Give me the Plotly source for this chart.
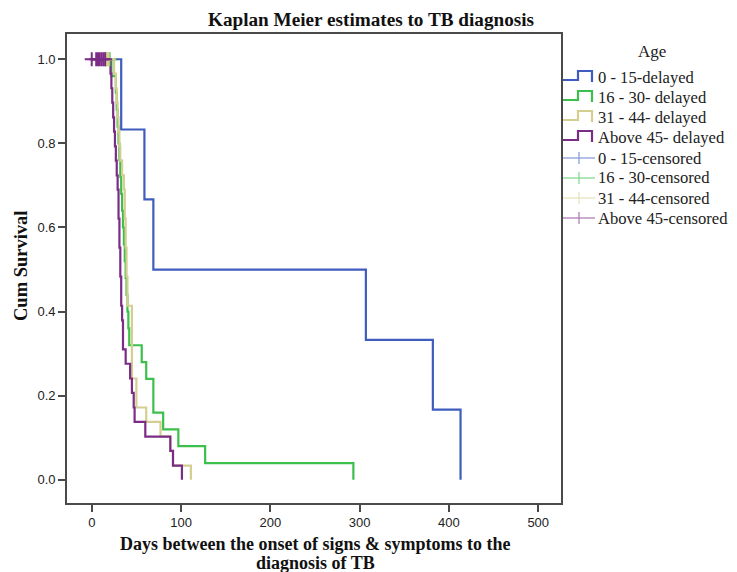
import plotly.graph_objects as go

# ---------------- data ----------------
group_names = ["0 - 15", "16 - 30", "31 - 44", "Above 45"]
legend_delayed = ["0 - 15-delayed", "16 - 30- delayed", "31 - 44- delayed", "Above 45- delayed"]
legend_censored = ["0 - 15-censored", "16 - 30-censored", "31 - 44-censored", "Above 45-censored"]

t_0_15 = [0, 33, 59, 69, 307, 382, 413]
s_0_15 = [1.0, 0.833, 0.667, 0.5, 0.333, 0.167, 0.0]

t_16_30 = [0, 22, 27, 28, 29, 30, 31, 32, 33, 34, 35, 36, 37, 38, 39, 40, 41, 42, 56, 61, 69, 80, 97, 127, 293]
s_16_30 = [1.0, 0.96, 0.92, 0.88, 0.84, 0.80, 0.76, 0.72, 0.68, 0.64, 0.60, 0.56, 0.52, 0.48, 0.44, 0.40,
           0.36, 0.32, 0.28, 0.24, 0.16, 0.12, 0.08, 0.04, 0.0]

t_31_44 = [0, 25, 27, 28, 29, 30, 31, 32, 34, 36, 37, 38, 39, 40, 45, 50, 61, 77, 88, 91, 111]
s_31_44 = [1.0, 0.966, 0.931, 0.897, 0.862, 0.828, 0.793, 0.759, 0.724, 0.690, 0.621, 0.552, 0.483,
           0.414, 0.241, 0.172, 0.138, 0.103, 0.069, 0.034, 0.0]

t_45 = [0, 21, 22, 23, 24, 25, 26, 27, 28, 29, 30, 31, 32, 33, 34, 35, 38, 43, 45, 47, 48, 60, 88, 91, 101]
s_45 = [1.0, 0.966, 0.931, 0.897, 0.862, 0.828, 0.793, 0.759, 0.724, 0.690, 0.621, 0.552, 0.483, 0.414,
        0.379, 0.310, 0.276, 0.241, 0.207, 0.172, 0.138, 0.103, 0.069, 0.034, 0.0]

cens_0_15 = []
cens_16_30 = [16, 20]
cens_31_44 = [14, 17, 19]
cens_45 = [0, 5, 7, 9, 11, 13, 15]

x_ticks = [0, 100, 200, 300, 400, 500]
y_ticks = [0.0, 0.2, 0.4, 0.6, 0.8, 1.0]

# ---------------- styling ----------------
colors = ["#3F5DBE", "#3DBF4C", "#D4CF90", "#7B2D86"]
light = ["#8D9EDB", "#86DA90", "#E6E3BD", "#AF7FB7"]

times = [t_0_15, t_16_30, t_31_44, t_45]
survs = [s_0_15, s_16_30, s_31_44, s_45]
cens = [cens_0_15, cens_16_30, cens_31_44, cens_45]

OFF = 8  # page body margin of the browser
WIN_W, WIN_H = 737, 572
W, H = WIN_W - OFF, WIN_H - OFF
L, R, T, B = 67, 561, 34, 503   # plot frame in window pixels


def px(x):
    return (x - L) / (R - L)


def py(y):
    return (B - y) / (B - T)


fig = go.Figure()
for i in range(4):
    fig.add_trace(go.Scatter(x=times[i], y=survs[i], mode="lines", line_shape="hv",
                             line=dict(color=colors[i], width=2.2), name=legend_delayed[i],
                             showlegend=False, hoverinfo="skip"))
for i in range(4):
    if cens[i]:
        fig.add_trace(go.Scatter(x=cens[i], y=[1.0] * len(cens[i]), mode="markers",
                                 marker=dict(symbol="cross-thin", size=10,
                                             line=dict(color=colors[i], width=2)),
                                 name=legend_censored[i], showlegend=False, hoverinfo="skip"))

serif = "Liberation Serif"
sans = "Liberation Sans"

axis_common = dict(showline=True, linecolor="#4a4a4a", linewidth=1.6, mirror=True,
                   ticks="outside", ticklen=7, tickwidth=1.6, tickcolor="#4a4a4a",
                   showgrid=False, zeroline=False,
                   tickfont=dict(family=sans, size=13, color="#222222"))

fig.update_layout(
    width=W, height=H,
    margin=dict(l=L - OFF, r=WIN_W - R, t=T - OFF, b=WIN_H - B, pad=0),
    paper_bgcolor="white", plot_bgcolor="white",
    title=dict(text="<b>Kaplan Meier estimates to TB diagnosis</b>",
               font=dict(family=serif, size=19.2, color="#111111"),
               x=(371 - OFF) / W, xref="container", xanchor="center",
               y=1 - (19 - OFF) / H, yref="container", yanchor="middle"),
    xaxis=dict(range=[-27.7, 525.5], tickvals=x_ticks, ticktext=[str(v) for v in x_ticks], **axis_common),
    yaxis=dict(range=[-0.055, 1.06], tickvals=y_ticks, ticktext=["%.1f" % v for v in y_ticks], **axis_common),
    showlegend=False,
)

annotations = [
    dict(text="<b>Cum Survival</b>", x=px(21), y=py(266), xref="paper", yref="paper",
         textangle=-90, showarrow=False, xanchor="center", yanchor="middle",
         font=dict(family=serif, size=18.5, color="#111111")),
    dict(text="<b>Days between the onset of signs &amp; symptoms to the</b>", x=px(315), y=py(544),
         xref="paper", yref="paper", showarrow=False, xanchor="center", yanchor="middle",
         font=dict(family=serif, size=18, color="#111111")),
    dict(text="<b>diagnosis of TB</b>", x=px(315), y=py(563),
         xref="paper", yref="paper", showarrow=False, xanchor="center", yanchor="middle",
         font=dict(family=serif, size=18, color="#111111")),
    dict(text="Age", x=px(652), y=py(51), xref="paper", yref="paper", showarrow=False,
         xanchor="center", yanchor="middle", font=dict(family=serif, size=17, color="#222222")),
]

shapes = []
row_y = [77, 97, 117, 137, 158, 178, 198, 218]
for i in range(4):
    yc = row_y[i]
    pts = [(563, yc + 3), (578, yc + 3), (578, yc - 6), (592, yc - 6), (592, yc + 5)]
    path = "M " + " L ".join("%f,%f" % (px(a), py(b)) for a, b in pts)
    shapes.append(dict(type="path", path=path, xref="paper", yref="paper",
                       line=dict(color=colors[i], width=2.2)))
    annotations.append(dict(text=legend_delayed[i], x=px(596), y=py(yc), xref="paper", yref="paper",
                            showarrow=False, xanchor="left", yanchor="middle",
                            font=dict(family=serif, size=16.6, color="#222222")))
for i in range(4):
    yc = row_y[4 + i]
    shapes.append(dict(type="line", x0=px(563), x1=px(595), y0=py(yc), y1=py(yc),
                       xref="paper", yref="paper", line=dict(color=light[i], width=1.3)))
    shapes.append(dict(type="line", x0=px(579), x1=px(579), y0=py(yc - 6), y1=py(yc + 6),
                       xref="paper", yref="paper", line=dict(color=light[i], width=1.3)))
    annotations.append(dict(text=legend_censored[i], x=px(596), y=py(yc), xref="paper", yref="paper",
                            showarrow=False, xanchor="left", yanchor="middle",
                            font=dict(family=serif, size=16.6, color="#222222")))

fig.update_layout(annotations=annotations, shapes=shapes)
fig.write_html("out.html")
